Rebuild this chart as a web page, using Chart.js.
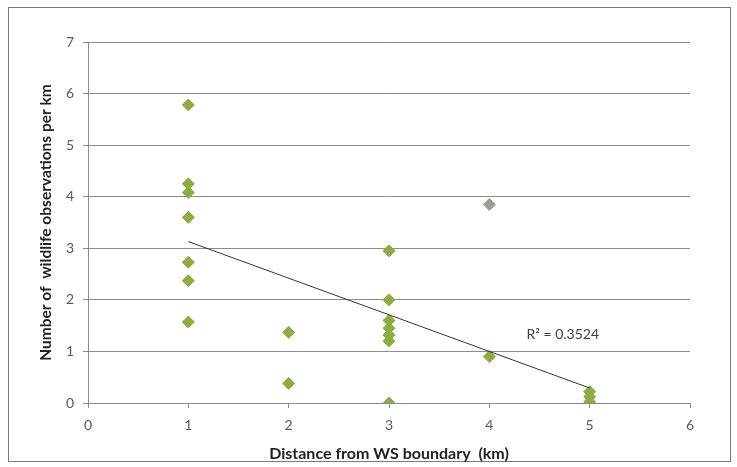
<!DOCTYPE html>
<html lang="en">
<head>
    <meta charset="UTF-8">
    <title>Wildlife observations vs distance</title>
    <style>
        body {
            margin: 0;
            background: #ffffff;
        }
        #wrap {
            width: 737px;
            height: 467px;
        }
    </style>
    <script src="https://cdn.jsdelivr.net/npm/chart.js"></script>
</head>
<body>
<div id="wrap"><canvas id="scatterChart" width="737" height="467"></canvas></div>

<script>
    // Observations (distance km, observations per km)
    const distX = [1, 1, 1, 1, 1, 1, 1,
                   2, 2,
                   3, 3, 3, 3, 3, 3, 3,
                   4, 4,
                   5, 5, 5];
    const obsY  = [5.78, 4.25, 4.08, 3.6, 2.73, 2.37, 1.57,
                   1.37, 0.38,
                   2.95, 2.0, 1.6, 1.45, 1.32, 1.2, 0.0,
                   3.85, 0.9,
                   0.22, 0.12, 0.02];
    // linear trend line as drawn (end points)
    const trendX = [1, 5];
    const trendY = [3.13, 0.29];
    const rSquaredLabel = 'R\u00B2 = 0.3524';
    const xTicks = [0, 1, 2, 3, 4, 5, 6];
    const yTicks = [0, 1, 2, 3, 4, 5, 6, 7];

    const points = distX.map((x, i) => ({ x: x, y: obsY[i] }));
    const trend = trendX.map((x, i) => ({ x: x, y: trendY[i] }));

    const gridGrey = '#8c8c8c';
    const fontFam = 'Lato, "Open Sans", sans-serif';

    // outer frame + R² label
    const extras = {
        id: 'extras',
        beforeDraw(chart) {
            const c = chart.ctx;
            c.save();
            c.fillStyle = '#ffffff';
            c.fillRect(0, 0, chart.width, chart.height);
            c.strokeStyle = '#7a7a7a';
            c.lineWidth = 1;
            c.strokeRect(8.5, 7.5, 722, 454);
            c.restore();
        },
        afterDatasetsDraw(chart) {
            const c = chart.ctx;
            const xs = chart.scales.x, ys = chart.scales.y;
            c.save();
            c.font = '14px ' + fontFam;
            c.fillStyle = '#404040';
            c.textAlign = 'left';
            c.textBaseline = 'middle';
            c.fillText(rSquaredLabel, xs.getPixelForValue(4.37), ys.getPixelForValue(1.32));
            c.restore();
        }
    };

    const ctx = document.getElementById('scatterChart').getContext('2d');
    const chart = new Chart(ctx, {
        type: 'scatter',
        data: {
            datasets: [{
                label: 'Observations',
                data: points,
                pointStyle: 'rectRot',
                pointRadius: 6,
                pointHoverRadius: 6,
                backgroundColor: (c) => (c.raw && c.raw.y > 3.7 && c.raw.x === 4) ? '#9a9e8c' : '#8cad3f',
                borderColor: (c) => (c.raw && c.raw.y > 3.7 && c.raw.x === 4) ? '#9a9e8c' : '#8cad3f',
                borderWidth: 1,
                order: 2
            }, {
                label: 'Linear trend',
                type: 'line',
                data: trend,
                borderColor: '#333333',
                borderWidth: 1,
                pointRadius: 0,
                fill: false,
                order: 1
            }]
        },
        options: {
            responsive: false,
            animation: false,
            layout: { padding: { left: 0, right: 47, top: 42, bottom: 0 } },
            plugins: {
                legend: { display: false },
                tooltip: { enabled: false }
            },
            scales: {
                x: {
                    type: 'linear',
                    min: 0,
                    max: 6,
                    afterBuildTicks: (s) => { s.ticks = xTicks.map(v => ({ value: v })); },
                    afterFit: (s) => { s.height = 64; },
                    grid: {
                        drawOnChartArea: false,
                        drawTicks: true,
                        tickLength: 5,
                        color: gridGrey
                    },
                    border: { color: gridGrey },
                    ticks: {
                        color: '#595959',
                        font: { family: fontFam, size: 14 },
                        padding: 9
                    },
                    title: {
                        display: true,
                        text: 'Distance from WS boundary  (km)',
                        color: '#222222',
                        font: { family: fontFam, size: 16, weight: 'bold' },
                        padding: { top: 0, bottom: 4 }
                    }
                },
                y: {
                    min: 0,
                    max: 7,
                    afterBuildTicks: (s) => { s.ticks = yTicks.map(v => ({ value: v })); },
                    afterFit: (s) => { s.width = 88; },
                    grid: {
                        drawOnChartArea: true,
                        drawTicks: true,
                        tickLength: 5,
                        color: gridGrey
                    },
                    border: { color: gridGrey },
                    ticks: {
                        color: '#595959',
                        font: { family: fontFam, size: 14 },
                        padding: 9
                    },
                    title: {
                        display: true,
                        text: 'Number of  wildlife observations per km',
                        color: '#222222',
                        font: { family: fontFam, size: 15.5, weight: 'bold' },
                        padding: { top: 37, bottom: 0 }
                    }
                }
            }
        },
        plugins: [extras]
    });
</script>
</body>
</html>
